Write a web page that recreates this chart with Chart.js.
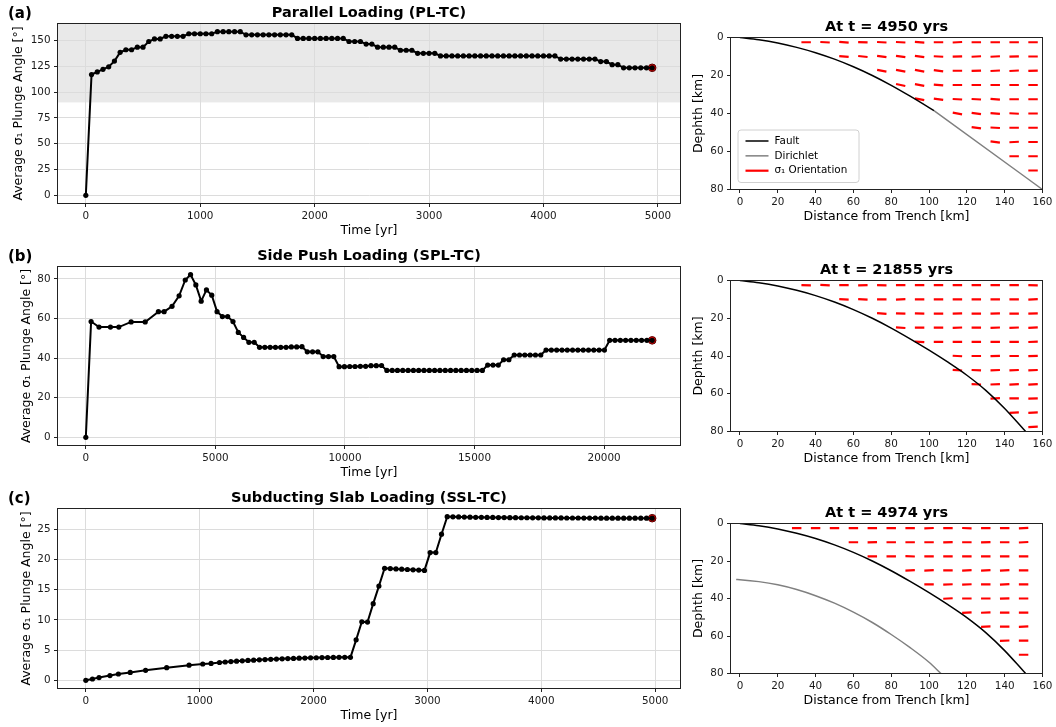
<!DOCTYPE html>
<html>
<head>
<meta charset="utf-8">
<title>Average σ1 plunge angle</title>
<script src="https://cdn.jsdelivr.net/npm/chart.js@4.4.1/dist/chart.umd.min.js"></script>
<style>
  html, body { margin: 0; padding: 0; background: #fff; }
  #fig { position: relative; width: 1056px; height: 727px; }
  #fig canvas { position: absolute; left: 0; top: 0; }
</style>
</head>
<body>
<div id="fig">
  <canvas id="timeA" width="1056" height="727"></canvas>
  <canvas id="timeB" width="1056" height="727"></canvas>
  <canvas id="timeC" width="1056" height="727"></canvas>
  <canvas id="profA" width="1056" height="727"></canvas>
  <canvas id="profB" width="1056" height="727"></canvas>
  <canvas id="profC" width="1056" height="727"></canvas>
</div>
<script>
// ---- time series: average sigma1 plunge angle ----
const timeA = [
  0, 50, 100, 150, 200, 250, 300, 350, 400, 450,
  500, 550, 600, 650, 700, 750, 800, 850, 900, 950,
  1000, 1050, 1100, 1150, 1200, 1250, 1300, 1350, 1400, 1450,
  1500, 1550, 1600, 1650, 1700, 1750, 1800, 1850, 1900, 1950,
  2000, 2050, 2100, 2150, 2200, 2250, 2300, 2350, 2400, 2450,
  2500, 2550, 2600, 2650, 2700, 2750, 2800, 2850, 2900, 2950,
  3000, 3050, 3100, 3150, 3200, 3250, 3300, 3350, 3400, 3450,
  3500, 3550, 3600, 3650, 3700, 3750, 3800, 3850, 3900, 3950,
  4000, 4050, 4100, 4150, 4200, 4250, 4300, 4350, 4400, 4450,
  4500, 4550, 4600, 4650, 4700, 4750, 4800, 4850, 4900, 4950
];
const angleA = [
  0, 117, 119.5, 122, 124.5, 130, 138.5, 141, 141, 143.5,
  143.5, 149, 151.5, 151.5, 154, 154, 154, 154, 156.5, 156.5,
  156.5, 156.5, 156.5, 158.5, 158.5, 158.5, 158.5, 158.5, 155.5, 155.5,
  155.5, 155.5, 155.5, 155.5, 155.5, 155.5, 155.5, 152, 152, 152,
  152, 152, 152, 152, 152, 152, 149, 149, 149, 146.5,
  146.5, 143.5, 143.5, 143.5, 143.5, 140.5, 140.5, 140.5, 137.5, 137.5,
  137.5, 137.5, 135, 135, 135, 135, 135, 135, 135, 135,
  135, 135, 135, 135, 135, 135, 135, 135, 135, 135,
  135, 135, 135, 132, 132, 132, 132, 132, 132, 132,
  129.5, 129.5, 126.5, 126.5, 123.5, 123.5, 123.5, 123.5, 123.5, 123.5
];

const timeB = [
  0, 204, 509, 950, 1273, 1749, 2292, 2801, 3022, 3327,
  3600, 3837, 4041, 4246, 4451, 4655, 4860, 5065, 5270, 5474,
  5679, 5884, 6089, 6293, 6498, 6703, 6908, 7112, 7317, 7522,
  7727, 7931, 8136, 8341, 8546, 8750, 8955, 9160, 9365, 9569,
  9774, 9979, 10184, 10388, 10593, 10798, 11003, 11207, 11412, 11617,
  11822, 12026, 12231, 12436, 12641, 12845, 13050, 13255, 13460, 13664,
  13869, 14074, 14279, 14483, 14688, 14893, 15098, 15302, 15507, 15712,
  15917, 16121, 16326, 16531, 16736, 16940, 17145, 17350, 17555, 17759,
  17964, 18169, 18374, 18578, 18783, 18988, 19193, 19397, 19602, 19807,
  20012, 20216, 20421, 20626, 20831, 21035, 21240, 21445, 21650, 21855
];
const angleB = [
  0, 58.5, 55.7, 55.7, 55.7, 58.3, 58.3, 63.5, 63.5, 66.2,
  71.5, 79.5, 82.2, 77, 68.8, 74.5, 71.8, 63.5, 61, 61,
  58.5, 53, 50.5, 48, 48, 45.5, 45.5, 45.5, 45.5, 45.5,
  45.5, 45.7, 45.7, 45.8, 43.2, 43.2, 43.2, 40.8, 40.8, 40.8,
  35.7, 35.7, 35.8, 35.8, 35.9, 35.9, 36.2, 36.2, 36.3, 33.8,
  33.8, 33.8, 33.8, 33.8, 33.8, 33.8, 33.8, 33.8, 33.8, 33.8,
  33.8, 33.8, 33.8, 33.8, 33.8, 33.8, 33.8, 33.8, 36.5, 36.5,
  36.5, 39.2, 39.2, 41.6, 41.6, 41.6, 41.6, 41.6, 41.6, 44.1,
  44.1, 44.1, 44.1, 44.1, 44.1, 44.1, 44.1, 44.1, 44.1, 44.1,
  44.1, 49, 49, 49, 49, 49, 49, 49, 49, 49
];

const timeC = [
  0, 58, 116, 212, 286, 390, 525, 710, 907, 1027,
  1100, 1174, 1224, 1274, 1324, 1374, 1424, 1474, 1524, 1574,
  1624, 1674, 1724, 1774, 1824, 1874, 1924, 1974, 2024, 2074,
  2124, 2174, 2224, 2274, 2324, 2374, 2424, 2474, 2524, 2574,
  2624, 2674, 2724, 2774, 2824, 2874, 2924, 2974, 3024, 3074,
  3124, 3174, 3224, 3274, 3324, 3374, 3424, 3474, 3524, 3574,
  3624, 3674, 3724, 3774, 3824, 3874, 3924, 3974, 4024, 4074,
  4124, 4174, 4224, 4274, 4324, 4374, 4424, 4474, 4524, 4574,
  4624, 4674, 4724, 4774, 4824, 4874, 4924, 4974
];
const angleC = [
  0, 0.22, 0.45, 0.78, 1.05, 1.3, 1.65, 2.1, 2.5, 2.7,
  2.8, 2.95, 3.03, 3.1, 3.17, 3.23, 3.29, 3.34, 3.39, 3.44,
  3.48, 3.52, 3.56, 3.6, 3.63, 3.66, 3.69, 3.72, 3.74, 3.76,
  3.78, 3.79, 3.8, 3.81, 3.8, 6.7, 9.7, 9.65, 12.7, 15.6,
  18.55, 18.5, 18.45, 18.4, 18.35, 18.3, 18.25, 18.2, 21.15, 21.15,
  24.2, 27.1, 27.08, 27.06, 27.04, 27.02, 27.0, 26.99, 26.98, 26.97,
  26.96, 26.95, 26.94, 26.93, 26.92, 26.92, 26.91, 26.91, 26.9, 26.9,
  26.89, 26.89, 26.88, 26.88, 26.88, 26.87, 26.87, 26.87, 26.86, 26.86,
  26.86, 26.86, 26.85, 26.85, 26.85, 26.85, 26.85, 26.85
];

const xTicksA = [0, 1000, 2000, 3000, 4000, 5000];
const yTicksA = [0, 25, 50, 75, 100, 125, 150];
const xTicksB = [0, 5000, 10000, 15000, 20000];
const yTicksB = [0, 20, 40, 60, 80];
const xTicksC = [0, 1000, 2000, 3000, 4000, 5000];
const yTicksC = [0, 5, 10, 15, 20, 25];
const shadeFromA = 90;

// ---- cross sections: fault, Dirichlet boundary, sigma1 directions ----
const faultAX = [0, 10, 20, 30, 40, 50, 60, 70, 80, 90, 100, 102.6];
const faultAZ = [0, 1.2, 2.9, 5.2, 8, 11.4, 15.4, 20, 25.2, 30.9, 36.9, 38.5];
const dirichletAX = [102.6, 160];
const dirichletAZ = [38.5, 80];

const faultX = [0, 10, 20, 30, 40, 50, 60, 70, 80, 90, 100, 110, 120, 130, 140, 150, 151.1];
const faultZ = [0, 1.2, 2.9, 5.2, 8, 11.4, 15.4, 20, 25.2, 30.9, 36.9, 43.3, 50.2, 58.2, 67.8, 78.8, 80];

const dirichletCX = [-2, 0, 10, 20, 30, 40, 50, 60, 70, 80, 90, 100, 106.3];
const dirichletCZ = [29.9, 30, 31, 32.7, 35.2, 38.5, 42.5, 47.3, 52.8, 59.2, 66.2, 74, 80];

const distTicks = [0, 20, 40, 60, 80, 100, 120, 140, 160];
const depthTicks = [0, 20, 40, 60, 80];

// sample grid: columns (km) and row depths (km); each row of angles fills the rightmost columns
const gridColsAB = [35, 45, 55, 65, 75, 85, 95, 105, 115, 125, 135, 145, 155];
const gridColsC = [30, 40, 50, 60, 70, 80, 90, 100, 110, 120, 130, 140, 150];
const gridDepths = [2.5, 10, 17.5, 25, 32.5, 40, 47.5, 55, 62.5, 70, 77.5];

// sigma1 direction (deg, positive = dipping toward +x)
const dirA = [
  [0, 3, 4, 2, 3, 3, 4, 0, -3, 0, 0, 0, 0],
  [5, 6, 8, 8, 8, 3, -2, -3, -3, -2, 0],
  [10, 10, 10, 8, 0, -2, -3, -3, -2],
  [12, 10, 5, 0, 0, 0, 0, 0],
  [10, 8, 3, 3, 5, 0, 0],
  [10, 8, 5, 3, 0],
  [8, 3, 0, 0],
  [8, -3, 0],
  [0, 0],
  [0]
];
const dirB = [
  [2, 3, 0, -2, 2, 0, 0, 0, 0, 0, 0, 0, 2],
  [3, 4, 0, -2, 0, 0, 0, 0, 0, 0, -2],
  [4, 2, 2, 0, -2, 0, -2, 0, -2],
  [4, 0, 0, -2, 0, -2, -2, -3],
  [3, 0, 0, 0, 0, 0, -2],
  [3, 0, -2, 0, -2],
  [4, 2, -2, -2, -2],
  [2, -2, -3, -3],
  [-3, 0, -2],
  [-3, -2],
  [-3]
];
const dirC = [
  [0, 0, 0, 0, 0, 0, 0, -2, 0, 2, 0, 0, -3],
  [0, -2, 0, 0, 0, -2, 0, -2, 0, -3],
  [0, 0, 2, 0, 0, 0, 0, 0, 0],
  [-3, -2, 0, -2, -2, -3, 0],
  [0, -2, -2, 0, -3, 0],
  [-3, 0, 0, -2, 0],
  [-3, -2, 0, 0],
  [-2, 0, -2],
  [-2, 0],
  [0]
];

// ---- layout ----
const FONT = '"DejaVu Sans", sans-serif';
const PAGE_W = 1056, PAGE_H = 727;
const YW = 50, XH = 30;
const SEG_HALF = 2.5;

const areaTA = { left: 57.5, top: 23.5, right: 680.5, bottom: 203.5 };
const areaTB = { left: 57.5, top: 266.5, right: 680.5, bottom: 445.5 };
const areaTC = { left: 57.5, top: 508.5, right: 680.5, bottom: 688.5 };
const areaPA = { left: 730.5, top: 37.5, right: 1042.5, bottom: 189.5 };
const areaPB = { left: 730.5, top: 280.5, right: 1042.5, bottom: 431.5 };
const areaPC = { left: 730.5, top: 523.5, right: 1042.5, bottom: 673.5 };

const decor = {
  id: 'decor',
  beforeDraw(chart, args, o) {
    if (o.band == null) return;
    const a = chart.chartArea, ctx = chart.ctx;
    const y = chart.scales.y.getPixelForValue(o.band);
    ctx.save();
    ctx.fillStyle = '#e9e9e9';
    ctx.fillRect(a.left, a.top, a.right - a.left, y - a.top);
    ctx.restore();
  },
  afterDraw(chart, args, o) {
    const a = chart.chartArea, ctx = chart.ctx;
    const cx = (a.left + a.right) / 2, cy = (a.top + a.bottom) / 2;
    ctx.save();
    ctx.strokeStyle = '#222';
    ctx.lineWidth = 1;
    ctx.strokeRect(a.left, a.top, a.right - a.left, a.bottom - a.top);

    ctx.fillStyle = '#000';
    ctx.textBaseline = 'middle';
    ctx.textAlign = 'center';
    ctx.font = `bold 14.5px ${FONT}`;
    ctx.fillText(o.title, cx, a.top - 10);
    if (o.letter) {
      ctx.textAlign = 'left';
      ctx.font = `bold 15px ${FONT}`;
      ctx.fillText(o.letter, 8, a.top - 9);
    }
    ctx.textAlign = 'center';
    ctx.font = `12.5px ${FONT}`;
    ctx.fillText(o.xLabel, cx, a.bottom + 27);

    if (o.legend) {
      const bx = a.left + 7.5, by = a.bottom - 59.5, bw = 121, bh = 52.5;
      ctx.beginPath();
      ctx.roundRect(bx, by, bw, bh, 3);
      ctx.fillStyle = 'rgba(255,255,255,0.8)';
      ctx.fill();
      ctx.strokeStyle = '#d0d0d0';
      ctx.stroke();
      ctx.font = `10.4px ${FONT}`;
      ctx.textAlign = 'left';
      chart.data.datasets.forEach((ds, i) => {
        const y = by + 11 + i * 14.85;
        ctx.beginPath();
        ctx.moveTo(bx + 7.5, y);
        ctx.lineTo(bx + 30.5, y);
        ctx.strokeStyle = ds.borderColor;
        ctx.lineWidth = ds.borderWidth;
        ctx.stroke();
        ctx.fillStyle = '#000';
        ctx.fillText(ds.label, bx + 36.5, y);
      });
    }

    ctx.fillStyle = '#000';
    ctx.font = `12.5px ${FONT}`;
    ctx.textAlign = 'center';
    ctx.translate(o.yLabelX, cy);
    ctx.rotate(-Math.PI / 2);
    ctx.fillText(o.yLabel, 0, 0);
    ctx.restore();
  }
};
Chart.register(decor);

function axis(min, max, tickVals, showGrid, horizontal, reverse) {
  return {
    type: 'linear',
    min: min,
    max: max,
    reverse: !!reverse,
    afterBuildTicks: s => { s.ticks = tickVals.map(v => ({ value: v })); },
    afterFit: s => { if (horizontal) s.height = XH; else s.width = YW; },
    ticks: {
      autoSkip: false, maxRotation: 0, padding: 3.5, color: '#1a1a1a',
      font: { family: FONT, size: 10.4 },
      callback: v => String(v)
    },
    grid: {
      drawOnChartArea: showGrid, color: '#dcdcdc', lineWidth: 1,
      drawTicks: true, tickLength: 3.5, tickColor: '#222', tickWidth: 1
    },
    border: { display: false }
  };
}

function padLimits(vals) {
  const lo = Math.min(...vals), hi = Math.max(...vals), m = (hi - lo) * 0.05;
  return [lo - m, hi + m];
}

function layoutPad(area) {
  return {
    left: area.left - YW,
    top: area.top,
    right: PAGE_W - area.right,
    bottom: PAGE_H - area.bottom - XH
  };
}

function baseOptions(area, scales, deco) {
  return {
    responsive: false,
    animation: false,
    devicePixelRatio: 1,
    events: [],
    layout: { padding: layoutPad(area) },
    scales: scales,
    plugins: { legend: { display: false }, tooltip: { enabled: false }, decor: deco }
  };
}

function timePanel(id, area, times, vals, xTicks, yTicks, deco) {
  const pts = times.map((t, i) => ({ x: t, y: vals[i] }));
  const [x0, x1] = padLimits(times);
  const [y0, y1] = padLimits(vals);
  new Chart(document.getElementById(id), {
    type: 'scatter',
    data: {
      datasets: [
        {
          data: pts, showLine: true, borderColor: '#000', borderWidth: 2,
          pointRadius: 2.6, pointBackgroundColor: '#000', pointBorderWidth: 0
        },
        {
          data: [pts[pts.length - 1]], pointRadius: 3.8,
          pointBackgroundColor: '#ee0000', pointBorderColor: '#550000', pointBorderWidth: 1
        }
      ]
    },
    options: baseOptions(area, {
      x: axis(x0, x1, xTicks, true, true),
      y: axis(y0, y1, yTicks, true, false)
    }, Object.assign({ xLabel: 'Time [yr]', yLabel: 'Average σ₁ Plunge Angle [°]' }, deco))
  });
}

function linePoints(xs, zs) {
  return xs.map((x, i) => ({ x: x, y: zs[i] }));
}

function segmentPoints(cols, rows) {
  const out = [];
  rows.forEach((angles, r) => {
    const z = gridDepths[r];
    const c0 = cols.length - angles.length;
    angles.forEach((deg, i) => {
      const x = cols[c0 + i];
      const rad = deg * Math.PI / 180;
      const dx = SEG_HALF * Math.cos(rad), dz = SEG_HALF * Math.sin(rad);
      out.push({ x: x - dx, y: z - dz }, { x: x + dx, y: z + dz }, { x: x, y: null });
    });
  });
  return out;
}

function profilePanel(id, area, fault, dirichlet, segs, deco) {
  const common = { showLine: true, pointRadius: 0, cubicInterpolationMode: 'monotone' };
  new Chart(document.getElementById(id), {
    type: 'scatter',
    data: {
      datasets: [
        Object.assign({ label: 'Fault', data: fault, borderColor: '#000', borderWidth: 1.5 }, common),
        Object.assign({ label: 'Dirichlet', data: dirichlet, borderColor: '#808080', borderWidth: 1.5 }, common),
        {
          label: 'σ₁ Orientation', data: segs, showLine: true, pointRadius: 0,
          borderColor: '#ff0000', borderWidth: 2.2, borderCapStyle: 'butt', spanGaps: false
        }
      ]
    },
    options: baseOptions(area, {
      x: axis(-5, 160, distTicks, false, true),
      y: axis(0, 80, depthTicks, false, false, true)
    }, Object.assign({ xLabel: 'Distance from Trench [km]', yLabel: 'Dephth [km]', yLabelX: 699 }, deco))
  });
}

timePanel('timeA', areaTA, timeA, angleA, xTicksA, yTicksA,
  { title: 'Parallel Loading (PL-TC)', letter: '(a)', yLabelX: 18.5, band: shadeFromA });
timePanel('timeB', areaTB, timeB, angleB, xTicksB, yTicksB,
  { title: 'Side Push Loading (SPL-TC)', letter: '(b)', yLabelX: 26.7 });
timePanel('timeC', areaTC, timeC, angleC, xTicksC, yTicksC,
  { title: 'Subducting Slab Loading (SSL-TC)', letter: '(c)', yLabelX: 26.7 });

profilePanel('profA', areaPA, linePoints(faultAX, faultAZ), linePoints(dirichletAX, dirichletAZ),
  segmentPoints(gridColsAB, dirA), { title: 'At t = 4950 yrs', legend: true });
profilePanel('profB', areaPB, linePoints(faultX, faultZ), [],
  segmentPoints(gridColsAB, dirB), { title: 'At t = 21855 yrs' });
profilePanel('profC', areaPC, linePoints(faultX, faultZ), linePoints(dirichletCX, dirichletCZ),
  segmentPoints(gridColsC, dirC), { title: 'At t = 4974 yrs' });
</script>
</body>
</html>
